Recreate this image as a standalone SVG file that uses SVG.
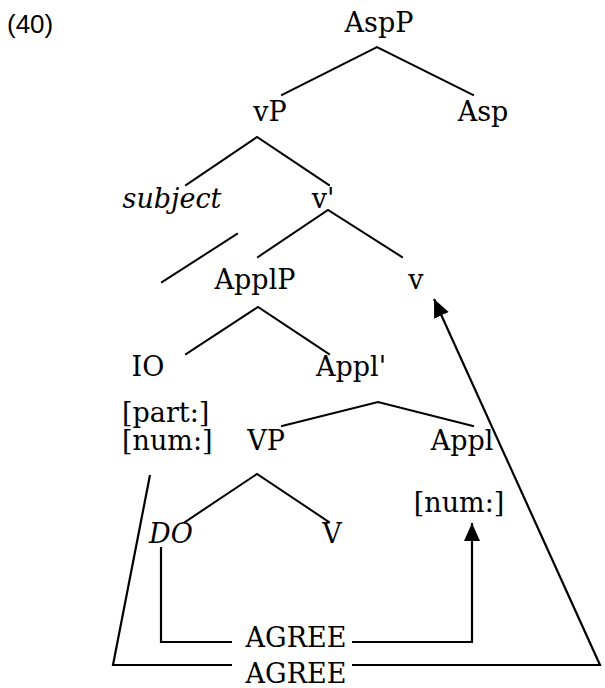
<svg xmlns="http://www.w3.org/2000/svg" width="605" height="688" viewBox="0 0 605 688">
<style>
text{font-family:"DejaVu Serif","Liberation Serif",serif;font-size:27px;fill:#000;text-anchor:middle}
.it{font-style:italic}
.st{text-anchor:start}
.ex{font-family:"Liberation Sans",Arial,sans-serif;font-size:26px;text-anchor:start}
.br{stroke:#000;stroke-width:2;fill:none;stroke-linecap:square}
.ag{stroke:#000;stroke-width:2.2;fill:none}
</style>
<defs>
<marker id="ah" markerUnits="userSpaceOnUse" markerWidth="20" markerHeight="18" refX="18" refY="8" orient="auto">
<path d="M0,0 L18,8 L0,16 z" fill="#000"/>
</marker>
</defs>
<text class="ex" x="7" y="33">(40)</text>
<g id="branches">
<path class="br" d="M282,95 L377,47 L473,95"/>
<path class="br" d="M186,185 L257,137 L329,185"/>
<path class="br" d="M258,257 L328,210 L402,257"/>
<path class="br" d="M237,234 L162,282"/>
<path class="br" d="M186,354 L258,307 L329,354"/>
<path class="br" d="M282,426 L378,402 L473,426"/>
<path class="br" d="M185,522 L257,474 L329,522"/>
</g>
<g id="n-AspP"><text x="379" y="32">AspP</text></g>
<g id="n-vP"><text x="270" y="121">vP</text></g>
<g id="n-Asp"><text x="483" y="121">Asp</text></g>
<g id="n-subject"><text class="it" x="172" y="208">subject</text></g>
<g id="n-vbar"><text x="323" y="208">v'</text></g>
<g id="n-ApplP"><text x="255" y="289">ApplP</text></g>
<g id="n-v"><text x="416" y="289">v</text></g>
<g id="n-IO"><text x="148" y="376">IO</text></g>
<g id="n-Applbar"><text x="351" y="376">Appl'</text></g>
<g id="n-IOfeat"><text class="st" x="122" y="422">[part:]</text><text class="st" x="122" y="450">[num:]</text></g>
<g id="n-VP"><text x="266" y="450">VP</text></g>
<g id="n-Appl"><text x="462" y="450">Appl</text><text x="459" y="512">[num:]</text></g>
<g id="n-DO"><text class="it" x="171" y="543">DO</text></g>
<g id="n-V"><text x="332" y="543">V</text></g>
<g id="connectors">
<path class="ag" d="M161,547 V642 H232"/>
<path class="ag" d="M352,642 H472 V523" marker-end="url(#ah)"/>
<text x="296" y="647">AGREE</text>
<path class="ag" d="M150,475 L113,665 H232"/>
<path class="ag" d="M352,665 H600 L434,299" marker-end="url(#ah)"/>
<text x="296" y="683">AGREE</text>
</g>
</svg>
